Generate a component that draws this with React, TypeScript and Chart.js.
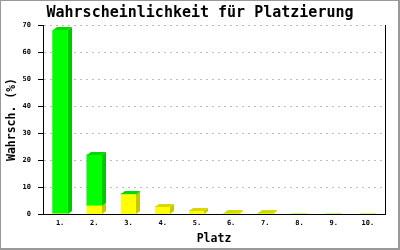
import React, { useEffect, useRef } from "react";
import { Chart, registerables } from "chart.js";

Chart.register(...registerables);

const categories = ["1.", "2.", "3.", "4.", "5.", "6.", "7.", "8.", "9.", "10."];
const yellowValues = [0, 3, 7.2, 2.6, 1.1, 0.2, 0.2, 0, 0, 0];
const greenValues = [68, 19, 0.3, 0, 0, 0, 0, 0, 0, 0];
const yTicks = [0, 10, 20, 30, 40, 50, 60, 70];

const FRONT = ["#ffff00", "#00ff00"];
const SIDE = ["#c8c800", "#00c800"];
const TOP = ["#d8d800", "#00d800"];
const DX = 4;
const DY = 3;
const FONT = "'DejaVu Sans Mono', 'Liberation Mono', monospace";

const threeD = {
  id: "threeD",
  afterDatasetsDraw(chart: any) {
    const ctx = chart.ctx as CanvasRenderingContext2D;
    const dsList = chart.data.datasets;
    for (let i = 0; i < categories.length; i++) {
      let topDs = -1;
      dsList.forEach((ds: any, di: number) => {
        if ((ds.data[i] as number) > 0) topDs = di;
      });
      dsList.forEach((ds: any, di: number) => {
        const v = ds.data[i] as number;
        if (!(v > 0)) return;
        const el = chart.getDatasetMeta(di).data[i] as any;
        const { x, y, base, width } = el.getProps(["x", "y", "base", "width"], true);
        const left = Math.round(x - width / 2);
        const right = left + Math.round(width);
        const top = Math.round(y);
        const bot = Math.round(base);
        ctx.save();
        ctx.fillStyle = SIDE[di];
        ctx.beginPath();
        ctx.moveTo(right, top);
        ctx.lineTo(right + DX, top - DY);
        ctx.lineTo(right + DX, bot - DY);
        ctx.lineTo(right, bot);
        ctx.closePath();
        ctx.fill();
        if (di === topDs) {
          ctx.fillStyle = TOP[di];
          ctx.beginPath();
          ctx.moveTo(left, top);
          ctx.lineTo(left + DX, top - DY);
          ctx.lineTo(right + DX, top - DY);
          ctx.lineTo(right, top);
          ctx.closePath();
          ctx.fill();
        }
        ctx.restore();
      });
    }
  },
};

const background = {
  id: "background",
  beforeDraw(chart: any) {
    const ctx = chart.ctx as CanvasRenderingContext2D;
    ctx.save();
    ctx.fillStyle = "#ffffff";
    ctx.fillRect(0, 0, chart.width, chart.height);
    ctx.strokeStyle = "#999999";
    ctx.lineWidth = 2;
    ctx.strokeRect(0, 0, chart.width - 1, chart.height - 1);
    ctx.restore();
  },
};

export default function App() {
  const ref = useRef<HTMLCanvasElement | null>(null);
  useEffect(() => {
    document.body.style.margin = "0";
    if (!ref.current) return;
    const chart = new Chart(ref.current, {
      type: "bar",
      data: {
        labels: categories,
        datasets: [
          {
            label: "a",
            data: yellowValues,
            backgroundColor: FRONT[0],
            borderWidth: 0,
            barThickness: 15,
          },
          {
            label: "b",
            data: greenValues,
            backgroundColor: FRONT[1],
            borderWidth: 0,
            barThickness: 15,
          },
        ],
      },
      options: {
        animation: false,
        responsive: false,
        maintainAspectRatio: false,
        layout: { padding: 0 },
        plugins: {
          legend: { display: false },
          tooltip: { enabled: false },
          title: {
            display: true,
            text: "Wahrscheinlichkeit für Platzierung",
            color: "#000",
            font: { family: FONT, size: 15, weight: "bold", lineHeight: 1.2 },
            padding: { top: 4, bottom: 3 },
          },
        },
        scales: {
          x: {
            stacked: true,
            grid: { display: true, drawOnChartArea: false, drawTicks: false },
            border: { display: true, color: "#000", width: 1 },
            ticks: {
              color: "#000",
              padding: 5,
              font: { family: FONT, size: 7, weight: "bold" },
              maxRotation: 0,
            },
            title: {
              display: true,
              text: "Platz",
              color: "#000",
              font: { family: FONT, size: 11.5, weight: "bold", lineHeight: 1.2 },
              padding: { top: 0, bottom: 4 },
            },
            afterFit(scale: any) {
              scale.height = 36;
            },
          },
          y: {
            stacked: true,
            min: 0,
            max: 70,
            afterBuildTicks(scale: any) {
              scale.ticks = yTicks.map((v) => ({ value: v }));
            },
            grid: {
              color: "#bbbbbb",
              lineWidth: 1,
              drawTicks: true,
              tickLength: 5,
              tickColor: "#000",
              tickBorderDash: [],
            },
            border: { display: true, color: "#000", width: 1, dash: [2, 4] },
            ticks: {
              color: "#000",
              padding: 7,
              font: { family: FONT, size: 7, weight: "bold" },
            },
            title: {
              display: true,
              text: "Wahrsch. (%)",
              color: "#000",
              font: { family: FONT, size: 11.5, weight: "bold", lineHeight: 1.2 },
              padding: { top: 5, bottom: 0 },
            },
            afterFit(scale: any) {
              scale.width = 43;
            },
          },
          y2: {
            type: "linear",
            position: "right",
            min: 0,
            max: 70,
            grid: { display: false, drawTicks: false },
            border: { display: true, color: "#000", width: 1 },
            ticks: { display: false },
            afterFit(scale: any) {
              scale.width = 15;
            },
          },
        },
      },
      plugins: [background, threeD],
    } as any);
    return () => chart.destroy();
  }, []);
  return (
    <div style={{ width: 400, height: 250 }}>
      <canvas ref={ref} width={400} height={250} style={{ display: "block" }} />
    </div>
  );
}
